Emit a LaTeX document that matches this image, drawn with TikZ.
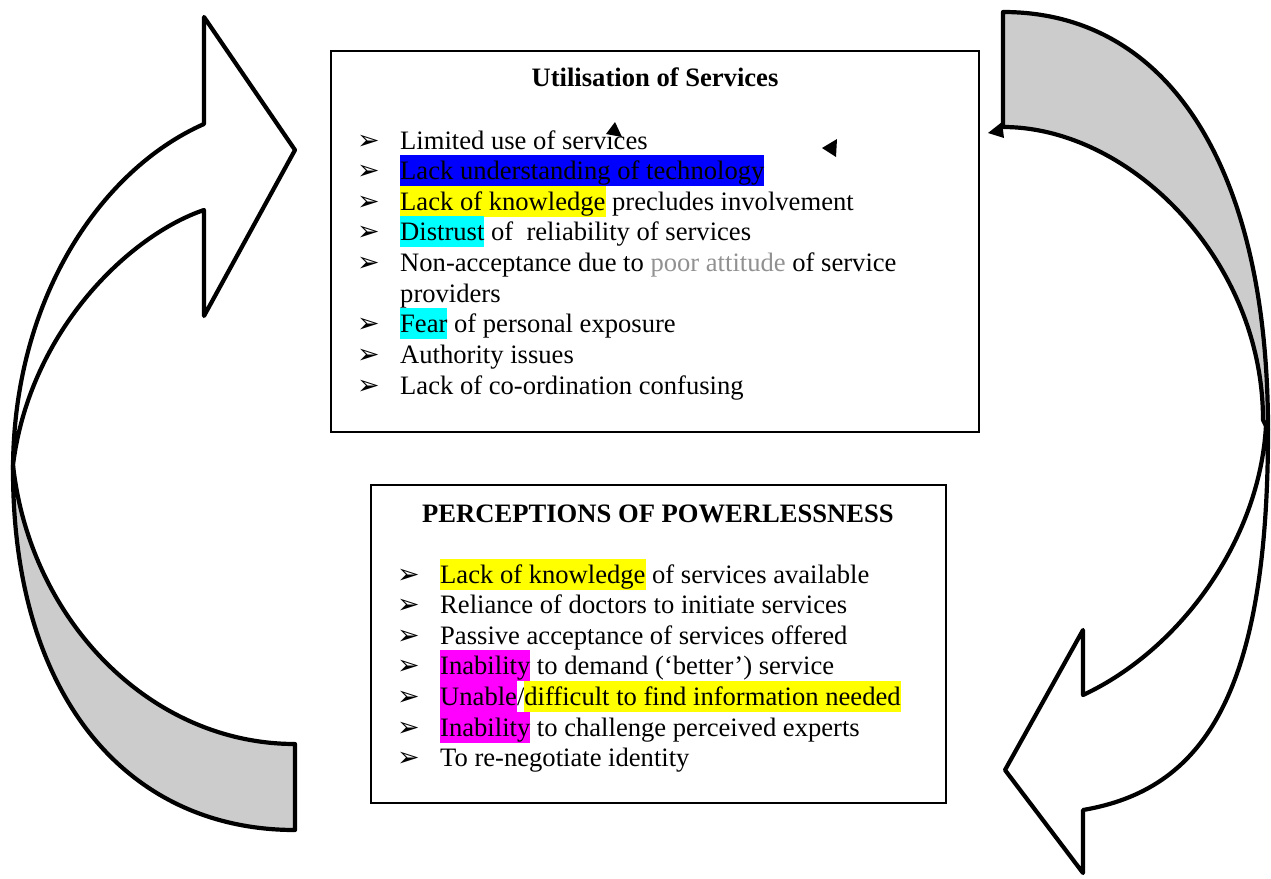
\documentclass[tikz,border=0pt]{standalone}
\usepackage{fontspec}
\setmainfont{Liberation Serif}
\newfontfamily\dejavu{DejaVu Sans}
\definecolor{hlyellow}{RGB}{255,255,0}
\definecolor{hlblue}{RGB}{0,0,255}
\definecolor{hlcyan}{RGB}{0,255,255}
\definecolor{hlmagenta}{RGB}{255,0,255}
\definecolor{poorgray}{RGB}{145,145,145}
\definecolor{ribbongray}{RGB}{204,204,204}
\newcommand{\hlt}[2]{{\setlength{\fboxsep}{0pt}\colorbox{#1}{\rule[-6.5pt]{0pt}{31pt}#2}}}
\newcommand{\bodyfont}{\fontsize{26.6}{30.65}\selectfont}
\tikzset{
  txtline/.style={anchor=base west, inner sep=0pt, font=\bodyfont},
  bul/.style={anchor=base west, inner sep=0pt, font=\dejavu\fontsize{27}{27}\selectfont},
  ttl/.style={anchor=base, inner sep=0pt, font=\bodyfont\bfseries},
  frame/.style={draw=black, line width=1.6pt},
  ribbon/.style={draw=black, line width=4.2pt, line join=round},
  blip/.style={fill=black}
}
\begin{document}
\begin{tikzpicture}[x=1pt,y=-1pt]
\useasboundingbox (0,0) rectangle (1271,878);

% ---------- left curved arrow ----------
\filldraw[ribbon, fill=ribbongray] (13,470) .. controls (13,700) and (130,830) .. (295,830) -- (295,744) .. controls (150,744) and (30,620) .. (13,465) -- cycle;
\filldraw[ribbon, fill=white] (13,470) .. controls (13,300) and (100,170) .. (204,124) -- (204,17) -- (295,150) -- (204,316) -- (204,210) .. controls (130,235) and (30,330) .. (13,465) -- cycle;

% ---------- right curved arrow ----------
\filldraw[ribbon, fill=ribbongray] (1003,12) .. controls (1170,12) and (1268,170) .. (1268,430) -- (1263,420) .. controls (1263,260) and (1130,127) .. (1003,127) -- cycle;
\filldraw[ribbon, fill=white] (1268,430) .. controls (1268,700) and (1200,790) .. (1083,810) -- (1083,873) -- (1005,770) -- (1083,630) -- (1083,695) .. controls (1180,650) and (1260,540) .. (1266,425) -- cycle;

% ---------- box 1 ----------
\draw[frame] (331,51) rectangle (979,432);
\node[ttl] (t1) at (655,86) {Utilisation of Services};
\foreach \i/\y in {1/149,2/179.65,3/210.3,4/240.95,5/271.6,7/332.9,8/363.55,9/394.2}
  \node[bul] (ba\i) at (357,\y) {➢};
\node[txtline] (a1) at (400,149) {Limited use of services};
\node[txtline] (a2) at (400,179.65) {\hlt{hlblue}{Lack understanding of technology}};
\node[txtline] (a3) at (400,210.3) {\hlt{hlyellow}{Lack of knowledge} precludes involvement};
\node[txtline] (a4) at (400,240.95) {\hlt{hlcyan}{Distrust} of~ reliability of services};
\node[txtline] (a5) at (400,271.6) {Non-acceptance due to \textcolor{poorgray}{poor attitude} of service};
\node[txtline] (a6) at (400,302.25) {providers};
\node[txtline] (a7) at (400,332.9) {\hlt{hlcyan}{Fear} of personal exposure};
\node[txtline] (a8) at (400,363.55) {Authority issues};
\node[txtline] (a9) at (400,394.2) {Lack of co-ordination confusing};

% small arrowhead marks
\fill[blip] (615,122) -- (606,134) -- (622,137) -- cycle;
\fill[blip] (822,148) -- (837,139) -- (836,157) -- cycle;
\fill[blip] (988,133) -- (1002,122) -- (1004,138) -- cycle;

% ---------- box 2 ----------
\draw[frame] (371,485) rectangle (946,803);
\node[ttl] (t2) at (658,522) {PERCEPTIONS OF POWERLESSNESS};
\foreach \i/\y in {1/583,2/613.65,3/644.3,4/674.95,5/705.6,6/736.25,7/766.9}
  \node[bul] (bb\i) at (397,\y) {➢};
\node[txtline] (p1) at (440,583) {\hlt{hlyellow}{Lack of knowledge} of services available};
\node[txtline] (p2) at (440,613.65) {Reliance of doctors to initiate services};
\node[txtline] (p3) at (440,644.3) {Passive acceptance of services offered};
\node[txtline] (p4) at (440,674.95) {\hlt{hlmagenta}{Inability} to demand (‘better’) service};
\node[txtline] (p5) at (440,705.6) {\hlt{hlmagenta}{Unable}/\hlt{hlyellow}{difficult to find information needed}};
\node[txtline] (p6) at (440,736.25) {\hlt{hlmagenta}{Inability} to challenge perceived experts};
\node[txtline] (p7) at (440,766.9) {To re-negotiate identity};
\end{tikzpicture}
\end{document}
